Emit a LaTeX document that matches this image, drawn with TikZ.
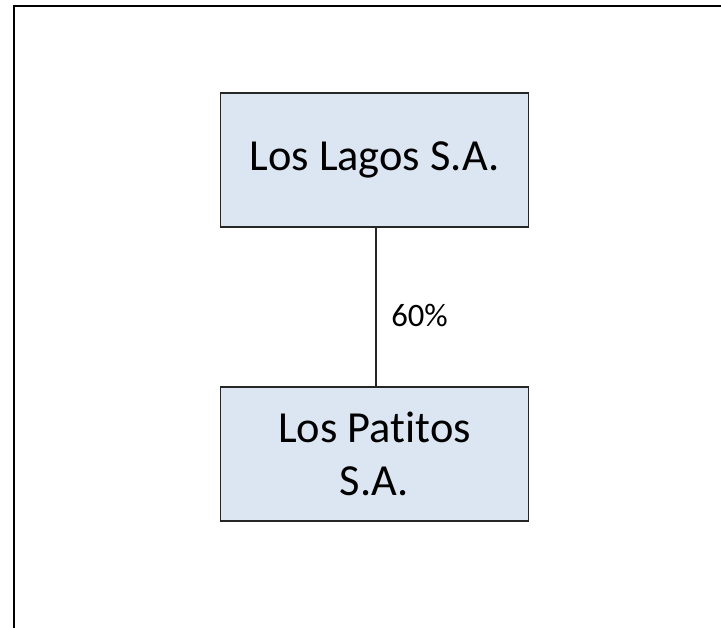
\documentclass[tikz,border=0pt]{standalone}
\usepackage{fontspec}
\setmainfont{Carlito}[Ligatures=NoCommon]
\definecolor{boxfill}{HTML}{DCE6F2}
\definecolor{boxline}{HTML}{262626}
\begin{document}
\begin{tikzpicture}[x=0.75pt,y=-0.75pt,
  entity/.style={draw=boxline,line width=1.4pt,fill=boxfill,minimum width=231pt,minimum height=100.5pt,
    inner sep=0pt,align=center,font=\fontsize{33.3}{39.5}\selectfont},
  share/.style={font=\fontsize{24.5}{29}\selectfont,anchor=west,inner sep=0pt}]
\useasboundingbox (0,0) rectangle (721,628);
% page frame (top and left edges)
\draw[line width=2pt] (721,6) -- (14,6) -- (14,628);
\node[entity] (lagos) at (374.5,160) {Los Lagos S.A.};
\node[entity] (patitos) at (374.5,454) {Los Patitos\\S.A.};
\draw[line width=0.9pt,boxline] (lagos.south -| 376,0) -- (patitos.north -| 376,0);
\node[share] (pct) at (391,315) {60\%};
\end{tikzpicture}
\end{document}
